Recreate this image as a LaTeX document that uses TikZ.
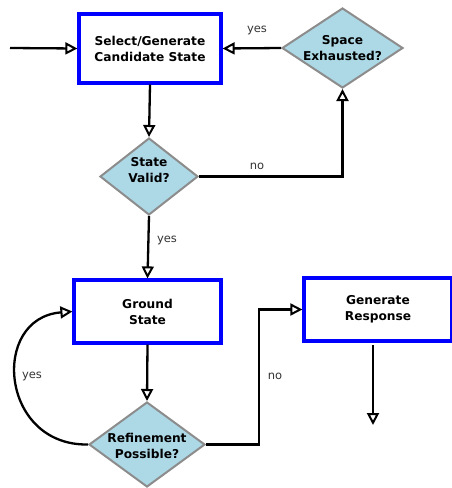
\documentclass[tikz,border=0pt]{standalone}
\usepackage{fontspec}
\setmainfont{DejaVu Sans}
\usetikzlibrary{shapes.geometric,arrows.meta}
\definecolor{dlb}{HTML}{ADD8E6}
\definecolor{dgray}{HTML}{8C8C8C}
\begin{document}
\begin{tikzpicture}[x=1pt,y=-1pt,
  box/.style={draw=blue,line width=3.2pt,fill=white,inner sep=0pt,align=center,
    font=\fontsize{12.2}{16}\selectfont\bfseries},
  dia/.style 2 args={diamond,draw=dgray,line width=2pt,fill=dlb,inner sep=0pt,
    label={[align=center,yshift=#2,font=\fontsize{12.2}{16}\selectfont\bfseries]center:#1}},
  conn/.style={line width=2.3pt,-{Triangle[open,length=12pt,width=12pt,line width=2pt]}},
  lbl/.style={font=\fontsize{11.5}{13}\selectfont,text=black!80}]
\useasboundingbox (0,0) rectangle (451,488);
\node[box,minimum width=142,minimum height=69] (sel) at (150,48.5) {Select/Generate\\Candidate State};
\node[dia={Space\\Exhausted?}{0pt},minimum width=121,minimum height=80] (se) at (342.5,48) {};
\node[dia={State\\Valid?}{6pt},minimum width=98,minimum height=77] (sv) at (149,176.5) {};
\node[box,minimum width=147,minimum height=63] (gs) at (147.5,311.5) {Ground\\State};
\node[box,minimum width=148,minimum height=63] (gr) at (378,309.5) {Generate\\Response};
\node[dia={Refinement\\Possible?}{-1pt},minimum width=116,minimum height=85] (rp) at (147,444.5) {};
\coordinate (in) at (10,48);
\coordinate (grs) at (373,345);
\coordinate (gro) at (373,425);
\draw[conn] (in) -- (sel.west);
\draw[conn] (se.west) -- (sel.east);
\draw[conn] (sel.south) -- (sv.north);
\draw[conn] (sv.east) -| (se.south);
\draw[conn] (sv.south) -- (gs.north);
\draw[conn] (gs.south) -- (rp.north);
\draw[conn] (rp.east) -- ++(53,0) |- (gr.west);
\draw[conn] (rp.west) .. controls (0,446) and (-10,318) .. (gs.west);
\draw[conn] (grs) -- (gro);
\node[lbl] (l1) at (257,30) {yes};
\node[lbl] (l2) at (257,166) {no};
\node[lbl] (l3) at (167,240) {yes};
\node[lbl] (l4) at (32,376) {yes};
\node[lbl] (l5) at (275,376) {no};
\end{tikzpicture}
\end{document}
